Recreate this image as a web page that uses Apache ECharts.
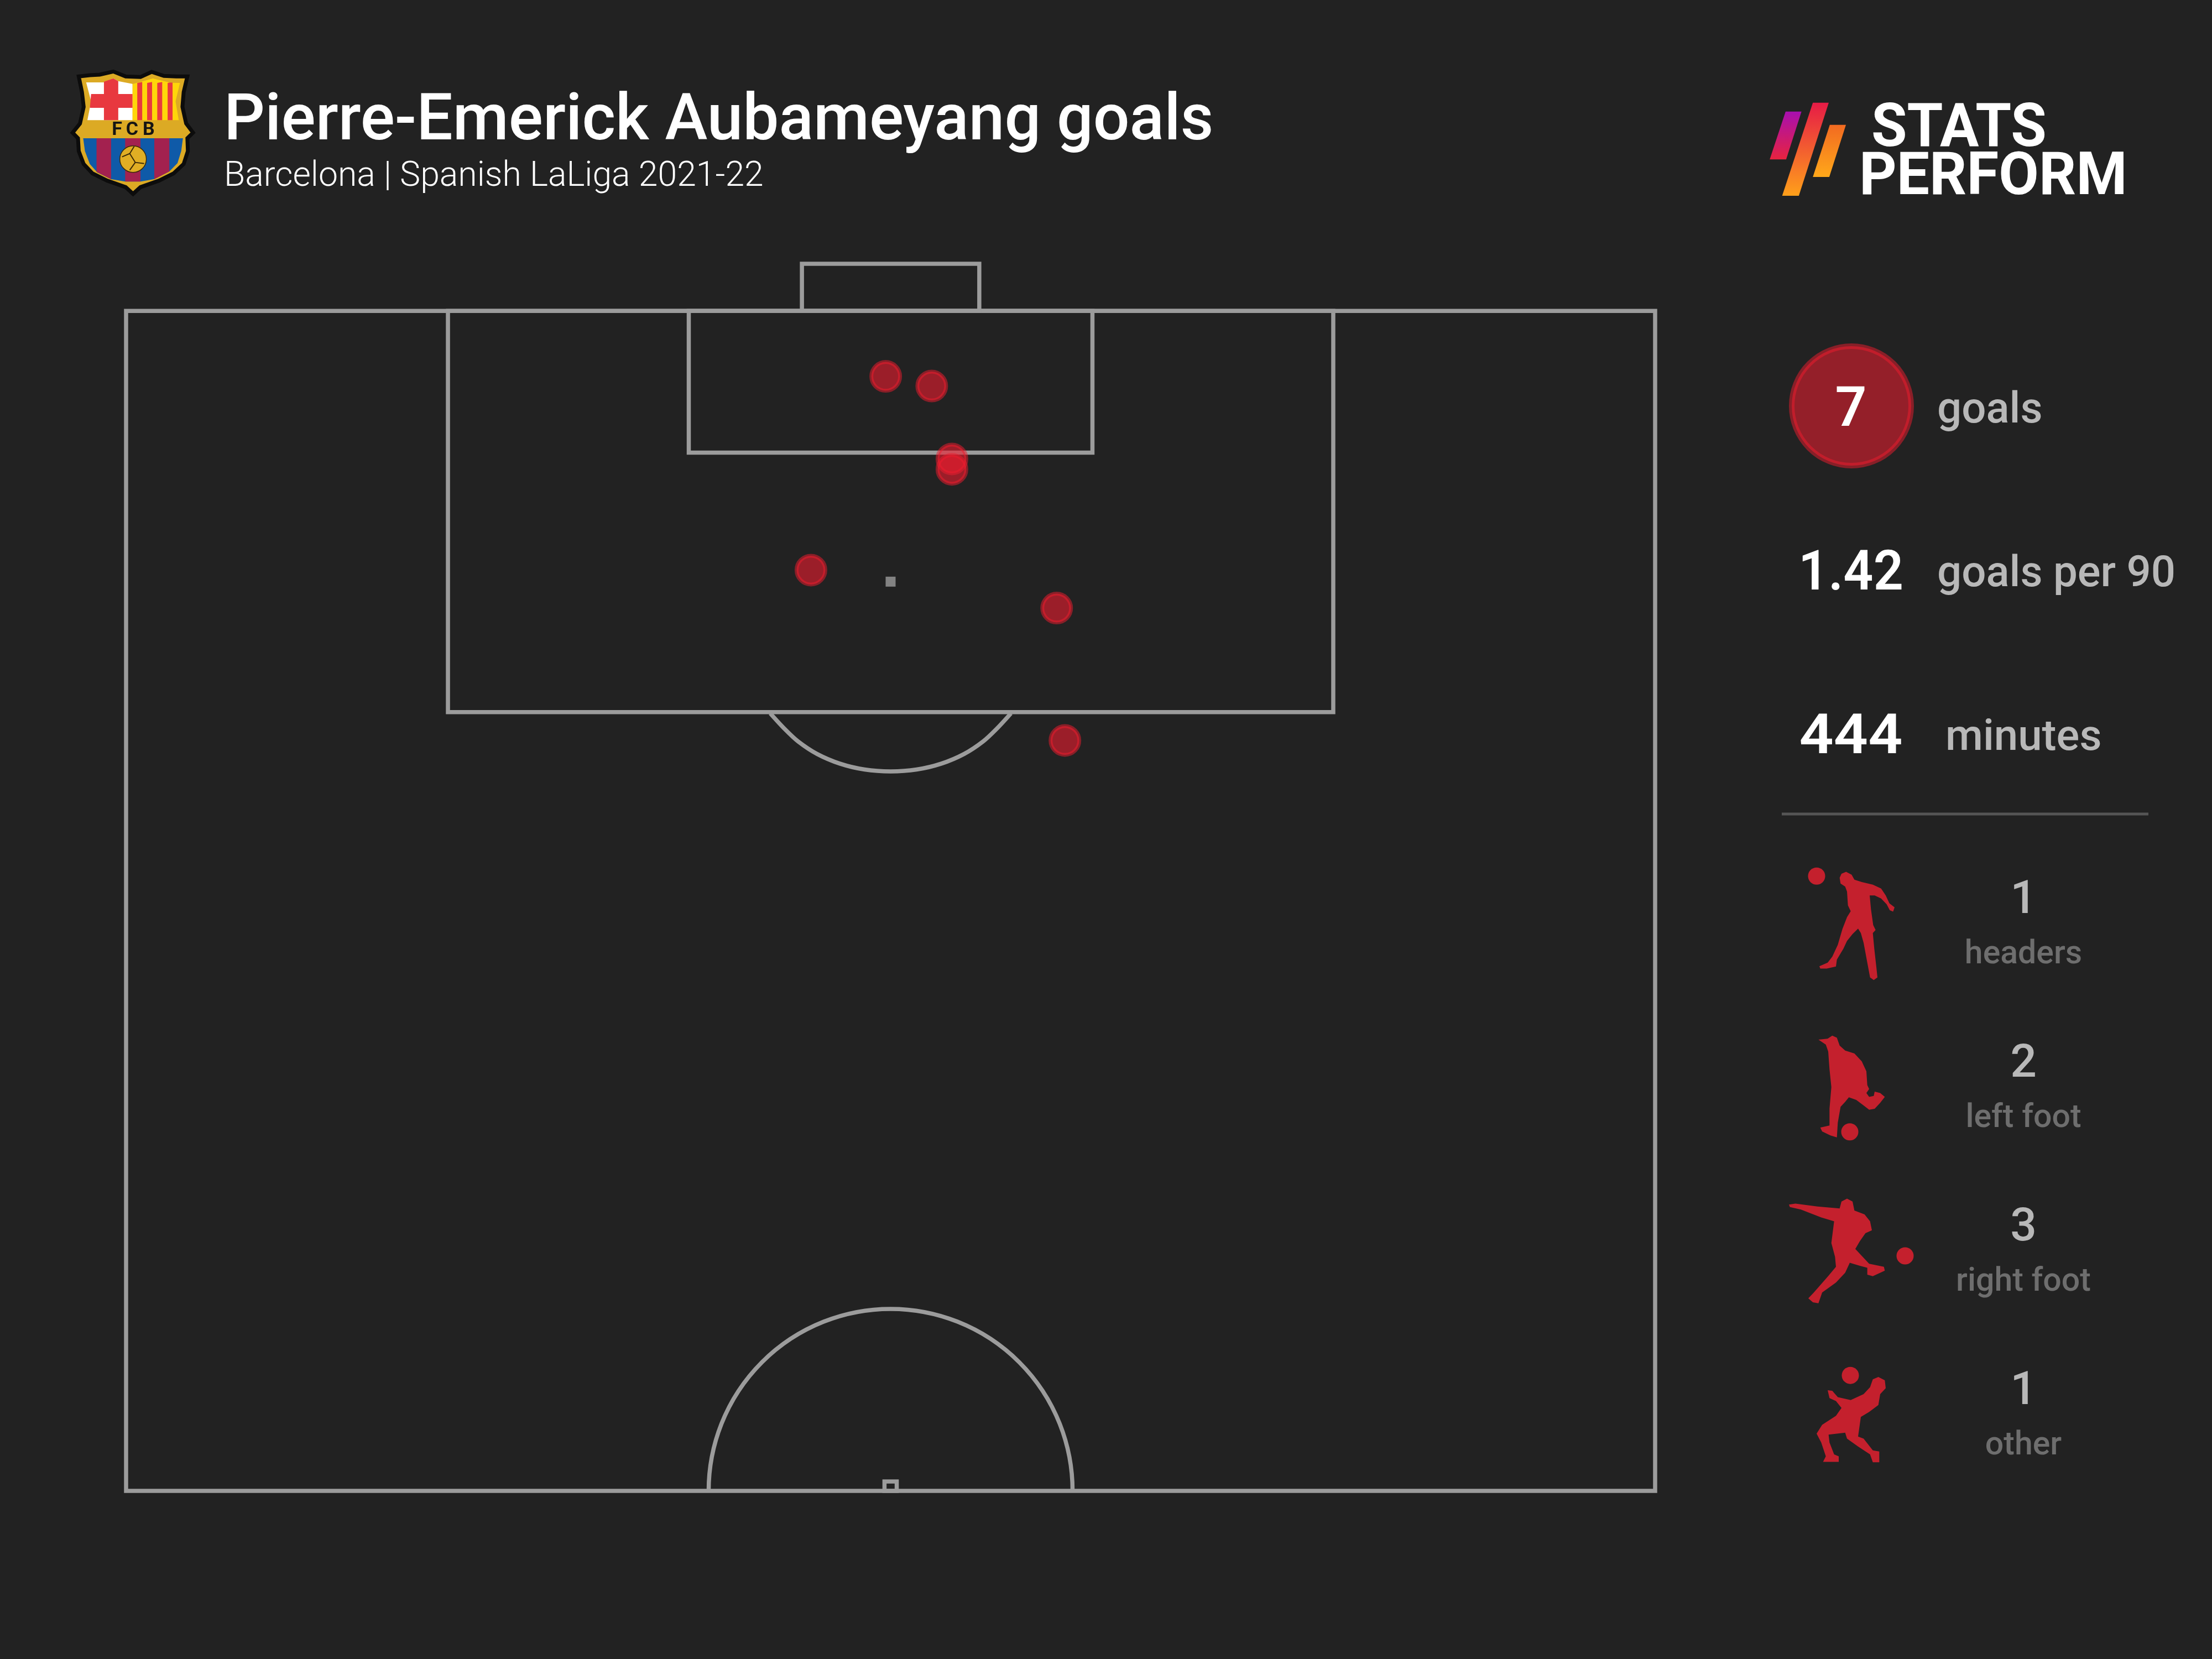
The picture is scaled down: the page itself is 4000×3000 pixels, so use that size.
<!DOCTYPE html>
<html><head><meta charset="utf-8">
<style>html,body{margin:0;padding:0;background:#222222}#c{width:4000px;height:3000px}</style>
<script src="https://cdn.jsdelivr.net/npm/echarts@6/dist/echarts.min.js"></script>
</head><body><div id="c"></div>
<script>
// ---- data ----
const goalX = [49.68, 52.69, 54.01, 54.01, 44.79, 60.86, 61.4];
const goalY = [97.23, 96.82, 93.73, 93.29, 89.02, 87.41, 81.8];
const summaryValues = ['7', '1.42', '444'];
const summaryLabels = ['goals', 'goals per 90', 'minutes'];
const bodyParts = ['headers', 'left foot', 'right foot', 'other'];
const bodyPartGoals = [1, 2, 3, 1];
const titleText = 'Pierre-Emerick Aubameyang goals';
const subtitleText = 'Barcelona | Spanish LaLiga 2021-22';

// ---- pitch geometry, in pitch units (x 0-100, y 50-100) ----
const pitchRects = [[0, 50, 100, 100], [21.05, 83, 78.95, 100], [36.8, 94, 63.2, 100], [44.2, 100, 55.8, 102], [49.6, 50, 50.4, 50.4]];
const pitchSpot = [[50, 88.53]];
const centreArc = { c: [50, 50], r: 11.9 };
const penaltyArc = [[42.13,82.95],[43.07,82.29],[43.95,81.76],[45.19,81.23],[46.68,80.82],[48.3,80.57],[50,80.49],[51.7,80.57],[53.32,80.82],[54.81,81.23],[56.05,81.76],[56.93,82.29],[57.87,82.95]];

const FONT = 'Roboto';
const LINE = '#9c9c9c', RED = '#c4202d';

// traced outlines (crop space)
const sil = {
  header: [[440,160],[450,140],[475,130],[505,145],[520,170],[560,182],[620,195],[665,215],[690,250],[710,290],[738,310],[730,332],[712,325],[695,295],[665,265],[630,250],[603,250],[610,320],[622,400],[635,425],[620,440],[628,520],[640,620],[645,665],[625,678],[605,665],[590,590],[570,490],[555,440],[540,418],[510,445],[480,480],[460,520],[425,575],[420,610],[370,620],[335,620],[330,608],[375,590],[400,560],[430,500],[455,420],[480,360],[500,330],[485,300],[480,230],[470,205],[445,190]],
  left: [[325,980],[375,975],[400,960],[425,970],[440,1010],[470,1035],[520,1050],[560,1090],[585,1140],[590,1210],[600,1230],[585,1250],[600,1270],[625,1265],[630,1243],[660,1250],[685,1270],[660,1300],[630,1330],[600,1335],[565,1310],[530,1285],[490,1272],[470,1295],[445,1320],[430,1400],[425,1475],[390,1465],[345,1445],[335,1425],[385,1415],[385,1330],[395,1220],[385,1130],[378,1040],[365,1005]],
  right: [[165,135],[200,130],[320,145],[440,155],[450,120],[480,105],[510,120],[520,165],[575,185],[605,220],[615,265],[580,280],[550,320],[525,360],[560,395],[600,435],[680,450],[685,470],[620,498],[590,490],[590,455],[550,445],[495,430],[470,480],[420,530],[345,580],[325,635],[295,630],[270,610],[300,580],[380,495],[420,450],[415,400],[395,330],[410,220],[340,200],[230,160],[170,148]],
  other: [[605,1060],[620,1020],[650,1008],[685,1025],[690,1065],[660,1095],[650,1150],[600,1185],[555,1210],[540,1310],[570,1320],[620,1380],[655,1385],[655,1440],[620,1440],[605,1400],[540,1360],[480,1320],[470,1290],[380,1300],[385,1340],[410,1400],[435,1410],[435,1438],[350,1438],[365,1410],[340,1340],[315,1295],[345,1250],[420,1205],[450,1165],[420,1130],[385,1115],[375,1075],[400,1078],[430,1110],[500,1125],[570,1095]]
};
const g = [];
function silhouette(pts, ball, ox, oy) {
  const m = p => [ox + p[0] / 3, oy + p[1] / 2.8];
  g.push({ type: 'polygon', silent: true, shape: { points: pts.map(m) }, style: { fill: RED } });
  const b = m(ball);
  g.push({ type: 'circle', silent: true, shape: { cx: b[0], cy: b[1], r: 15.5 }, style: { fill: RED } });
}
silhouette(sil.header, [315, 152], 3180, 1530);
silhouette(sil.left, [495, 1447], 3180, 1530);
silhouette(sil.right, [795, 395], 3180, 2130);
silhouette(sil.other, [498, 1000], 3180, 2130);

// crest
const cx = p => [100 + p[0] / 2.24, 100 + p[1] / 3];
function poly(pts, fill, stroke, lw) {
  g.push({ type: 'polygon', silent: true, shape: { points: pts.map(cx) }, style: { fill, stroke, lineWidth: lw || 0 } });
}
const crestOuter = [[95,115],[140,108],[180,105],[235,88],[285,115],[345,118],[390,90],[440,112],[490,115],[535,115],[520,200],[515,280],[530,370],[558,420],[535,450],[537,520],[520,590],[480,640],[420,680],[345,715],[315,752],[285,715],[210,680],[150,640],[115,590],[95,520],[92,450],[70,420],[100,370],[115,280],[108,200]];
poly(crestOuter, '#dcaa24', '#0c0c0c', 7);
poly([[125,147],[195,147],[235,125],[255,140],[313,155],[313,352],[130,352],[145,250]], '#ffffff');
poly([[197,143],[235,125],[255,140],[255,352],[197,352]], '#e8383f');
poly([[145,210],[313,210],[313,285],[140,285]], '#e8383f');
poly([[313,155],[395,125],[465,148],[505,150],[487,250],[500,352],[313,352]], '#ffd60a');
[[332,352],[372,392],[413,433],[455,475]].forEach(s => poly([[s[0],150],[s[1],145],[s[1],352],[s[0],352]], '#e8383f'));
poly([[313,150],[395,120],[465,143],[510,143],[505,150],[465,148],[395,125],[313,155]], '#dcaa24');
poly([[113,450],[517,450],[510,520],[495,585],[462,630],[400,672],[345,685],[283,685],[226,672],[170,635],[140,590],[120,520]], '#0f5aa8');
poly([[167,450],[226,450],[226,672],[167,632]], '#a3214f');
poly([[283,450],[345,450],[345,685],[283,685]], '#a3214f');
poly([[401,450],[462,450],[462,630],[401,672]], '#a3214f');
const cb = cx([315, 563]);
g.push({ type: 'circle', silent: true, shape: { cx: cb[0], cy: cb[1], r: 24 }, style: { fill: '#e0ae24', stroke: '#3a2a08', lineWidth: 1.5 } });
g.push({ type: 'polyline', silent: true, shape: { points: [[-20,-4],[-6,-10],[2,-23]].map(p=>[cb[0]+p[0],cb[1]+p[1]]) }, style: { stroke: '#3a2a08', lineWidth: 2, fill: null } });
g.push({ type: 'polyline', silent: true, shape: { points: [[-6,-10],[4,6],[20,8]].map(p=>[cb[0]+p[0],cb[1]+p[1]]) }, style: { stroke: '#3a2a08', lineWidth: 2, fill: null } });
g.push({ type: 'polyline', silent: true, shape: { points: [[4,6],[-6,20]].map(p=>[cb[0]+p[0],cb[1]+p[1]]) }, style: { stroke: '#3a2a08', lineWidth: 2, fill: null } });
['F','C','B'].forEach((t, i) => {
  const p = cx([[250,406],[311,406],[378,406]][i]);
  g.push({ type: 'text', silent: true, x: p[0], y: p[1], style: { text: t, fill: '#141414', font: 'bold 34px ' + FONT, textAlign: 'center', textVerticalAlign: 'middle' } });
});

// brand
const bm = p => [3150 + p[0] / 2.09, 130 + p[1] / 3];
function bar(pts, c1, c2) {
  g.push({ type: 'polygon', silent: true, shape: { points: pts.map(bm) }, style: { fill: new echarts.graphic.LinearGradient(0, 0, 0, 1, [{ offset: 0, color: c1 }, { offset: 1, color: c2 }]) } });
}
bar([[165,215],[225,215],[167,475],[105,475]], '#a80fb0', '#e8233f');
bar([[268,167],[328,167],[215,672],[152,672]], '#e61b46', '#ffa01a');
bar([[332,287],[393,287],[330,570],[268,570]], '#f26a21', '#ffa81a');
g.push({ type: 'text', silent: true, x: 3384, y: 236, scaleX: 0.953, style: { text: 'STATS', fill: '#fff', font: 'bold 110px ' + FONT, textAlign: 'left', textVerticalAlign: 'middle' } });
g.push({ type: 'text', silent: true, x: 3362, y: 324, scaleX: 0.975, style: { text: 'PERFORM', fill: '#fff', font: 'bold 108px ' + FONT, textAlign: 'left', textVerticalAlign: 'middle' } });

// summary panel
g.push({ type: 'circle', silent: true, shape: { cx: 3348, cy: 734, r: 108 }, style: { fill: 'rgba(237,28,46,0.56)', stroke: 'rgba(237,28,46,0.5)', lineWidth: 10 } });
const sumY = [745, 1041, 1337];
const sumScale = [1, 0.95, 1.09];
const labX = [3503, 3503, 3518];
summaryValues.forEach((v, i) => {
  g.push({ type: 'text', silent: true, x: 3347, y: sumY[i], scaleX: sumScale[i], style: { text: v, fill: '#fff', font: '600 100px ' + FONT, textAlign: 'center', textVerticalAlign: 'middle' } });
  g.push({ type: 'text', silent: true, x: labX[i], y: sumY[i] - 1, style: { text: summaryLabels[i], fill: '#b8b8b8', font: '500 78px ' + FONT, textAlign: 'left', textVerticalAlign: 'middle' } });
});
g.push({ type: 'line', silent: true, shape: { x1: 3222, y1: 1472, x2: 3885, y2: 1472 }, style: { stroke: '#555555', lineWidth: 5 } });
const partY = [1630, 1926, 2222, 2518];
bodyParts.forEach((t, i) => {
  g.push({ type: 'text', silent: true, x: 3659, y: partY[i], style: { text: String(bodyPartGoals[i]), fill: '#b8b8b8', font: '500 84px ' + FONT, textAlign: 'center', textVerticalAlign: 'middle' } });
  g.push({ type: 'text', silent: true, x: 3659, y: partY[i] + 97, style: { text: t, fill: '#6e6e6e', font: '500 59px ' + FONT, textAlign: 'center', textVerticalAlign: 'middle' } });
});

const chart = echarts.init(document.getElementById('c'), null, { width: 4000, height: 3000, renderer: 'canvas' });
chart.setOption({
  animation: false,
  backgroundColor: '#222222',
  title: {
    text: titleText, subtext: subtitleText, left: 400, top: 160, itemGap: 8,
    textStyle: { color: '#fff', fontFamily: FONT, fontWeight: 500, fontSize: 116 },
    subtextStyle: { color: '#ffffff', fontFamily: FONT, fontWeight: 300, fontSize: 62.5 }
  },
  grid: { left: 228, width: 2765, top: 477, height: 2219 },
  xAxis: { type: 'value', min: 0, max: 100, show: false },
  yAxis: { type: 'value', min: 50, max: 102, show: false },
  graphic: g,
  series: [
    {
      type: 'custom', coordinateSystem: 'cartesian2d', silent: true, clip: false, z: 1,
      data: pitchRects,
      renderItem: (p, api) => {
        const a = api.coord([api.value(0), api.value(1)]), b = api.coord([api.value(2), api.value(3)]);
        return { type: 'rect', shape: { x: a[0], y: b[1], width: b[0] - a[0], height: a[1] - b[1] }, style: { fill: 'none', stroke: LINE, lineWidth: 7.5 } };
      }
    },
    {
      type: 'custom', coordinateSystem: 'cartesian2d', silent: true, clip: false, z: 1,
      data: [[centreArc.c[0], centreArc.c[1], centreArc.r]],
      renderItem: (p, api) => {
        const c = api.coord([api.value(0), api.value(1)]), r = api.size([api.value(2), 0])[0];
        return { type: 'arc', shape: { cx: c[0], cy: c[1], r, startAngle: Math.PI, endAngle: 2 * Math.PI, clockwise: true }, style: { fill: 'none', stroke: LINE, lineWidth: 7.5 } };
      }
    },
    {
      type: 'line', silent: true, z: 1, data: penaltyArc, smooth: 0.3, showSymbol: false,
      lineStyle: { color: LINE, width: 7.5 }
    },
    {
      type: 'scatter', silent: true, z: 1, data: pitchSpot, symbol: 'rect', symbolSize: 18,
      itemStyle: { color: LINE }
    },
    {
      type: 'scatter', silent: true, z: 5,
      data: goalX.map((x, i) => [x, goalY[i]]),
      symbol: 'circle', symbolSize: 52,
      itemStyle: { color: 'rgba(237,28,46,0.6)', borderColor: 'rgba(237,28,46,0.5)', borderWidth: 7, opacity: 1 }
    }
  ]
});
</script></body></html>
